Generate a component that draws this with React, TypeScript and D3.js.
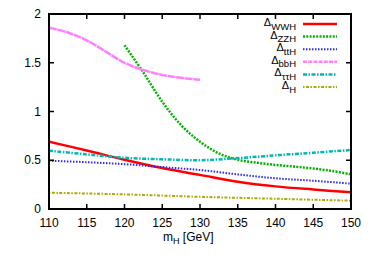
import React from 'react';
import * as d3 from "d3"

// m_H grid (GeV) and the relative errors
const massWWH = [110, 115, 120, 125, 130, 135, 140, 145, 150]
const valWWH = [0.69, 0.60, 0.505, 0.42, 0.35, 0.28, 0.232, 0.20, 0.172]

const massZZH = [120, 122.5, 125, 127.5, 130, 132.5, 135, 137.5, 140, 142.5, 145, 147.5, 150]
const valZZH = [1.68, 1.40, 1.10, 0.86, 0.69, 0.57, 0.505, 0.475, 0.452, 0.435, 0.415, 0.39, 0.356]

const massTTH = [110, 115, 120, 125, 130, 135, 140, 145, 150]
const valTTH = [0.495, 0.48, 0.46, 0.43, 0.40, 0.355, 0.315, 0.29, 0.26]

const massBBH = [110, 112.5, 115, 117.5, 120, 122.5, 125, 127.5, 130]
const valBBH = [1.86, 1.81, 1.73, 1.615, 1.50, 1.425, 1.375, 1.345, 1.325]

const massTauH = [110, 115, 120, 125, 130, 135, 140, 145, 150]
const valTauH = [0.598, 0.56, 0.525, 0.51, 0.50, 0.522, 0.55, 0.577, 0.605]

const massH = [110, 120, 130, 140, 150]
const valH = [0.167, 0.15, 0.125, 0.105, 0.085]

const xTicks = [110, 115, 120, 125, 130, 135, 140, 145, 150]
const yTicks = [0, 0.5, 1, 1.5, 2]
const yTickLabels = ["0", "0.5", "1", "1.5", "2"]

const seriesNames = ["WWH", "ZZH", "ttH", "bbH", "\u03c4\u03c4H", "H"]

const W = 374, H = 262
const margin = {left: 49, right: 23, top: 14, bottom: 53}

const App = () => {
  const x = d3.scaleLinear().domain([110, 150]).range([margin.left, W - margin.right])
  const y = d3.scaleLinear().domain([0, 2]).range([H - margin.bottom, margin.top])

  const line = d3.line<[number, number]>()
    .x(d => x(d[0]))
    .y(d => y(d[1]))
    .curve(d3.curveCatmullRom)

  const zip = (a: number[], b: number[]) => a.map((m, i) => [m, b[i]] as [number, number])

  const series = [
    {data: zip(massWWH, valWWH), color: "#ff0000", dash: "", key: "", width: 2.5},
    {data: zip(massZZH, valZZH), color: "#00b400", dash: "2,1.3", key: "2,1.3", width: 2.5},
    {data: zip(massTTH, valTTH), color: "#2828ff", dash: "1.5,1.5", key: "1.5,1.5", width: 2},
    {data: zip(massBBH, valBBH), color: "#ff80ff", dash: "8,0.6", key: "4,1.2", width: 2.5},
    {data: zip(massTauH, valTauH), color: "#00b8b8", dash: "4,1.5,1.5,1.5", key: "4,1.5,1.5,1.5", width: 2.5},
    {data: zip(massH, valH), color: "#b0a800", dash: "1.5,1.5,3,1.5", key: "1.5,1.5,3,1.5", width: 2},
  ]

  const tickLen = 5
  const font = "'Liberation Sans', Arial, sans-serif"

  return (
    <svg width={W} height={H} style={{position: "absolute", left: 0, top: 0}} fontFamily={font}>
      <rect width={W} height={H} fill="#fff" />
      <clipPath id="plotclip">
        <rect x={margin.left} y={margin.top} width={W - margin.left - margin.right} height={H - margin.top - margin.bottom} />
      </clipPath>

      {series.map((s, i) => (
        <path key={i} d={line(s.data) || ""} fill="none" stroke={s.color}
          strokeWidth={s.width} strokeDasharray={s.dash || undefined} clipPath="url(#plotclip)" />
      ))}

      {/* ticks, mirrored on all sides */}
      {xTicks.map(t => (
        <g key={"x" + t}>
          <line x1={x(t)} x2={x(t)} y1={y(0)} y2={y(0) - tickLen} stroke="#000" strokeWidth={1.5} />
          <line x1={x(t)} x2={x(t)} y1={y(2)} y2={y(2) + tickLen} stroke="#000" strokeWidth={1.5} />
          <text x={x(t)} y={y(0) + 18} fontSize={12} textAnchor="middle">{t}</text>
        </g>
      ))}
      {yTicks.map((t, i) => (
        <g key={"y" + t}>
          <line x1={x(110)} x2={x(110) + tickLen} y1={y(t)} y2={y(t)} stroke="#000" strokeWidth={1.5} />
          <line x1={x(150)} x2={x(150) - tickLen} y1={y(t)} y2={y(t)} stroke="#000" strokeWidth={1.5} />
          <text x={x(110) - 8} y={y(t) + 4} fontSize={12} textAnchor="end">{yTickLabels[i]}</text>
        </g>
      ))}

      <rect x={margin.left} y={margin.top} width={W - margin.left - margin.right}
        height={H - margin.top - margin.bottom} fill="none" stroke="#000" strokeWidth={2} />

      {/* legend */}
      {series.map((s, i) => {
        const ly = 24 + i * 12.6
        return (
          <g key={"l" + i}>
            <text x={296} y={ly + 2} fontSize={11} textAnchor="end">
              <tspan>{"\u0394"}</tspan>
              <tspan fontSize={9.5} dy={3.5}>{seriesNames[i]}</tspan>
            </text>
            <line x1={303} x2={337} y1={ly} y2={ly} stroke={s.color} strokeWidth={s.width}
              strokeDasharray={s.key || undefined} />
          </g>
        )
      })}

      <text x={163} y={241} fontSize={12}>
        <tspan>m</tspan>
        <tspan fontSize={9} dy={3}>H</tspan>
        <tspan dy={-3}> [GeV]</tspan>
      </text>
    </svg>
  )
}

export default App
